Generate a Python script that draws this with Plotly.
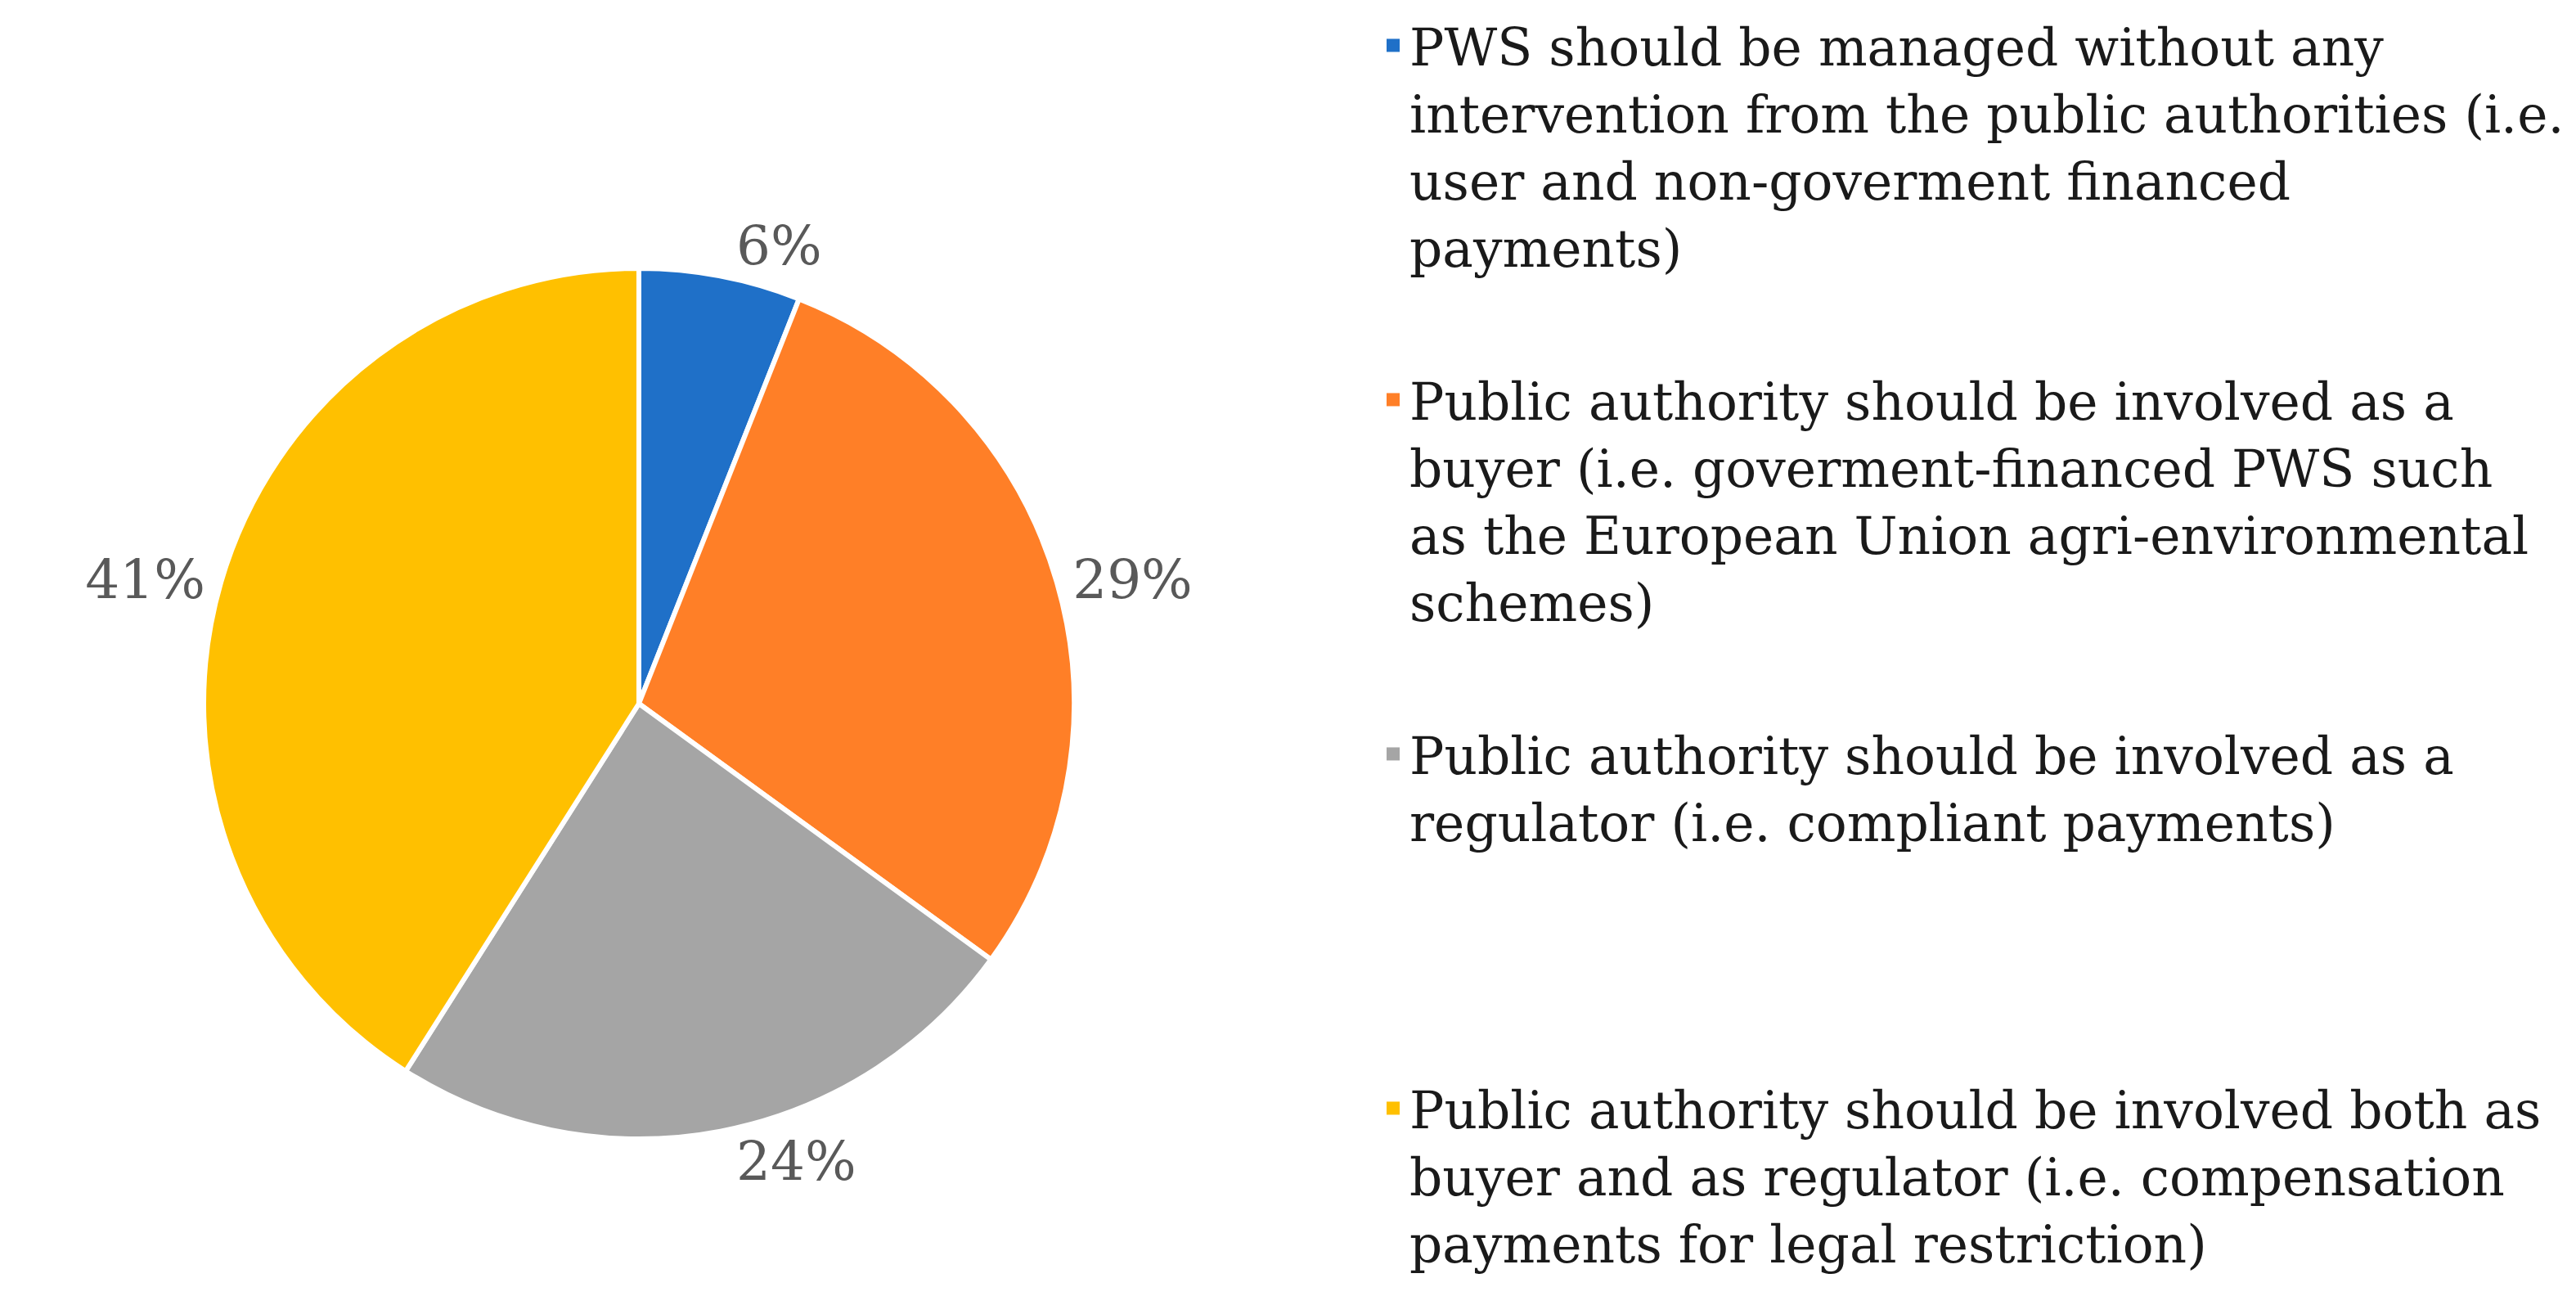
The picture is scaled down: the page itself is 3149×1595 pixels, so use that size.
import plotly.graph_objects as go

categories = [
    "PWS should be managed without any<br>intervention from the public authorities (i.e.<br>user and non-goverment financed<br>payments)",
    "Public authority should be involved as a<br>buyer (i.e. goverment-financed PWS such<br>as the European Union agri-environmental<br>schemes)",
    "Public authority should be involved as a<br>regulator (i.e. compliant payments)",
    "Public authority should be involved both as<br>buyer and as regulator (i.e. compensation<br>payments for legal restriction)",
]
values = [6, 29, 24, 41]
colors = ["#1F70C8", "#FF7F27", "#A5A5A5", "#FFC000"]

W, H = 3149, 1595
cx, cy, r = 773, 852, 532
legend_font = 63
line_h = 1.3 * legend_font
entry_pitch = 430  # distance between legend entry starts (px)
n_lines = 4

fig = go.Figure()
fig.add_trace(
    go.Pie(
        labels=categories,
        values=values,
        sort=False,
        direction="clockwise",
        rotation=0,
        marker=dict(colors=colors, line=dict(color="white", width=6)),
        textposition="outside",
        texttemplate="%{value}%",
        textfont=dict(family="DejaVu Serif", size=66, color="#595959"),
        domain=dict(x=[(cx - r) / W, (cx + r) / W], y=[1 - (cy + r) / H, 1 - (cy - r) / H]),
        showlegend=False,
        hoverinfo="label+percent",
    )
)

# legend entries (square swatches), one group per category for even spacing
for i, (c, col) in enumerate(zip(categories, colors)):
    k = c.count("<br>") + 1
    name = c + "<br>\u00a0" * max(0, n_lines - k) if i < len(categories) - 1 else c
    fig.add_trace(
        go.Scatter(
            x=[None], y=[None], mode="markers", name=name,
            marker=dict(symbol="square", size=16, color=col, line=dict(width=0)),
            legendgroup=f"g{i}", showlegend=True, hoverinfo="skip",
        )
    )

fig.update_layout(
    width=W,
    height=H,
    margin=dict(l=0, r=0, t=0, b=0),
    paper_bgcolor="white",
    plot_bgcolor="white",
    xaxis=dict(visible=False),
    yaxis=dict(visible=False),
    legend=dict(
        x=1675 / W,
        xanchor="left",
        y=1,
        yanchor="top",
        valign="top",
        itemsizing="trace",
        traceorder="grouped",
        font=dict(family="DejaVu Serif", size=legend_font, color="#1a1a1a"),
        bgcolor="rgba(0,0,0,0)",
        tracegroupgap=entry_pitch - n_lines * line_h,
    ),
)

fig.write_html("out.html")
